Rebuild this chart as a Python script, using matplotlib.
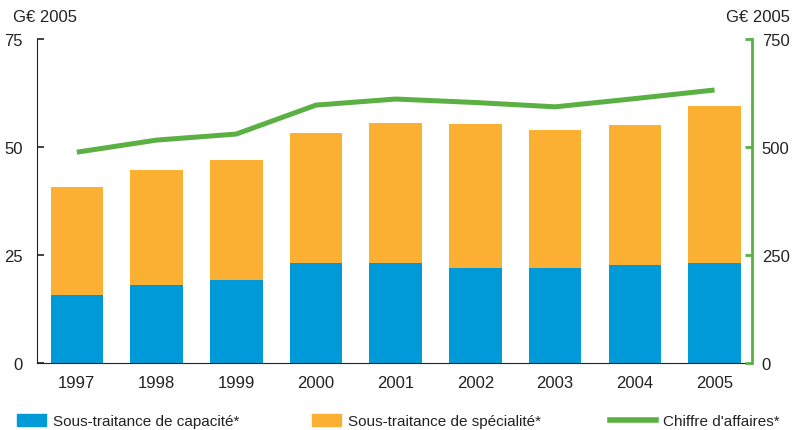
import matplotlib
matplotlib.use("Agg")
import matplotlib.pyplot as plt
from matplotlib.patches import Patch
from matplotlib.lines import Line2D
import numpy as np

plt.rcParams['font.family'] = ['Liberation Sans', 'DejaVu Sans']

years = ["1997", "1998", "1999", "2000", "2001", "2002", "2003", "2004", "2005"]
capacite = [15.7, 18.1, 19.2, 23.1, 23.1, 22.0, 22.0, 22.7, 23.1]
total = [40.7, 44.7, 47.0, 53.2, 55.6, 55.3, 53.9, 55.1, 59.5]
specialite = [t - c for t, c in zip(total, capacite)]
chiffre = [488, 516, 530, 597, 611, 603, 593, 612, 632]

blue = "#009ad8"
orange = "#fbb033"
green = "#5bb043"
txt = "#222222"

fig = plt.figure(figsize=(7.96, 4.31), dpi=100)
ax = fig.add_axes([37 / 796, 67 / 431, (752 - 37) / 796, (364 - 40) / 431])
ax2 = ax.twinx()

x = np.arange(len(years))
ax.bar(x, capacite, width=0.66, color=blue, zorder=2)
ax.bar(x, specialite, width=0.66, bottom=capacite, color=orange, zorder=2)
ax2.plot(x, chiffre, color=green, lw=3.6, solid_capstyle='butt', solid_joinstyle='miter')

ax.set_xlim(-0.5, 8.47)
ax.set_ylim(0, 75)
ax2.set_ylim(0, 750)
ax.set_yticks([0, 25, 50, 75])
ax2.set_yticks([0, 250, 500, 750])
ax.set_xticks(x)
ax.set_xticklabels(years)

for s in ["top", "right"]:
    ax.spines[s].set_visible(False)
for s in ["top", "left", "bottom"]:
    ax2.spines[s].set_visible(False)
ax.spines["left"].set_color(txt)
ax.spines["bottom"].set_color(txt)
ax2.spines["right"].set_color(green)
ax2.spines["right"].set_linewidth(2)

ax.tick_params(axis="y", direction="in", length=5, width=1.2, color=txt,
               labelsize=12, labelcolor=txt, pad=10)
ax.tick_params(axis="x", length=0, labelsize=12, labelcolor=txt, pad=9)
ax2.tick_params(axis="y", direction="in", length=5, width=2, color=green,
                labelsize=12, labelcolor=txt, pad=7)

fig.text(13 / 796, 1 - 17 / 431, "G€ 2005", fontsize=12, color=txt, va="center", ha="left")
fig.text(790 / 796, 1 - 17 / 431, "G€ 2005", fontsize=12, color=txt, va="center", ha="right")

items = [
    (Patch(color=blue), "Sous-traitance de capacité*", 17, 1.9),
    (Patch(color=orange), "Sous-traitance de spécialité*", 312, 1.9),
    (Line2D([], [], color=green, lw=4), "Chiffre d'affaires*", 610, 3.0),
]
for h, lab, px, hl in items:
    fig.legend([h], [lab], loc="center left", bbox_to_anchor=(px / 796, 1 - 422 / 431),
               frameon=False, fontsize=11, handlelength=hl, handleheight=0.8,
               handletextpad=0.45, borderpad=0, borderaxespad=0, labelcolor=txt)

fig.savefig("out.png", dpi=100)
